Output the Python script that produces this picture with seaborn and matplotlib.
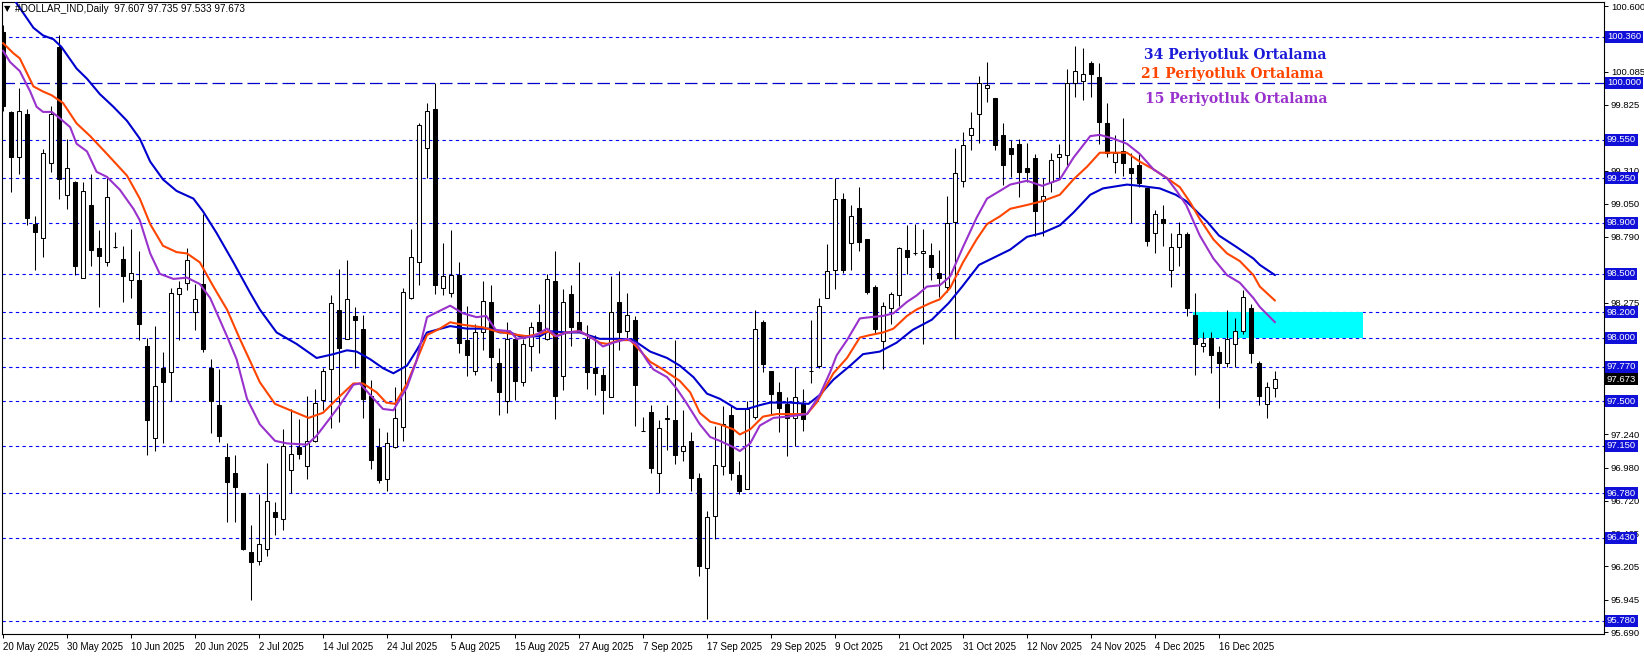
import numpy as np
import matplotlib
matplotlib.use("Agg")
import matplotlib.pyplot as plt
import matplotlib.transforms as mtrans
from matplotlib.patches import Rectangle
import seaborn as sns

# daily candles, 20 May 2025 .. end of Dec 2025
opens = [100.40, 99.77, 99.42, 99.75, 98.89, 98.78, 99.37, 100.28, 99.12, 99.22,
         98.47, 99.04, 98.70, 98.59, 98.71, 98.62, 98.45, 98.45, 97.93, 97.21,
         97.76, 97.73, 98.34, 98.43, 98.20, 98.42, 97.76, 97.47, 97.06, 96.94,
         96.78, 96.32, 96.25, 96.34, 96.63, 96.58, 96.96, 97.14, 96.99, 97.19,
         97.51, 97.75, 98.22, 97.99, 98.17, 98.07, 97.54, 97.14, 96.89, 97.14,
         97.30, 98.31, 98.59, 99.49, 99.79, 98.39, 98.35, 98.49, 97.98, 97.74,
         98.04, 98.28, 97.80, 97.50, 97.99, 97.65, 97.93, 98.12, 97.99, 98.44,
         97.70, 98.34, 98.12, 97.99, 97.76, 97.71, 97.53, 98.28, 98.05, 98.14,
         97.27, 97.42, 96.94, 97.36, 97.35, 97.11, 97.19, 96.90, 96.19, 96.60,
         96.99, 97.39, 96.92, 96.81, 97.38, 98.12, 97.74, 97.57, 97.48, 97.37,
         97.48, 97.74, 97.78, 98.31, 98.53, 99.09, 98.74, 99.02, 98.77, 98.40,
         97.97, 98.23, 98.33, 98.69, 98.66, 98.66, 98.65, 98.51, 98.40, 98.91,
         99.23, 99.59, 99.75, 99.96, 99.88, 99.59, 99.49, 99.52, 99.33, 99.41,
         99.07, 99.22, 99.42, 99.43, 100.00, 100.01, 100.15, 100.04, 99.68, 99.38,
         99.46, 99.33, 99.35, 99.17, 98.82, 98.93, 98.53, 98.71, 98.81, 98.18,
         97.93, 98.00, 97.89, 97.80, 97.95, 98.05, 98.23, 97.80, 97.48, 97.607]
highs = [100.45, 99.78, 99.96, 99.79, 98.95, 99.48, 99.82, 100.37, 99.56, 99.23,
         99.22, 99.28, 98.84, 99.26, 98.83, 98.72, 98.85, 98.68, 98.00, 98.09,
         97.89, 98.39, 98.44, 98.70, 98.42, 98.97, 97.83, 97.75, 97.17, 97.08,
         96.78, 96.53, 96.77, 97.02, 96.71, 97.28, 97.44, 97.36, 97.54, 97.60,
         97.76, 98.33, 98.54, 98.61, 98.24, 98.18, 97.67, 97.29, 97.26, 97.61,
         98.39, 98.85, 99.68, 99.84, 100.00, 98.74, 98.84, 98.59, 98.25, 98.11,
         98.44, 98.41, 97.92, 98.12, 98.03, 97.99, 98.12, 98.26, 98.50, 98.68,
         98.38, 98.41, 98.59, 98.10, 98.02, 97.76, 98.48, 98.52, 98.35, 98.17,
         97.38, 97.47, 97.35, 97.47, 97.98, 97.43, 97.26, 96.94, 96.64, 97.31,
         97.46, 97.47, 97.03, 97.50, 98.22, 98.14, 97.74, 97.65, 97.53, 97.77,
         97.60, 98.14, 98.31, 98.73, 99.25, 99.13, 99.04, 99.18, 98.77, 98.41,
         98.28, 98.36, 98.71, 98.88, 98.89, 98.85, 98.74, 98.69, 99.11, 99.49,
         99.61, 99.77, 100.05, 100.16, 99.88, 99.68, 99.55, 99.56, 99.53, 99.44,
         99.25, 99.45, 99.52, 100.11, 100.29, 100.27, 100.17, 100.15, 99.84, 99.59,
         99.72, 99.45, 99.44, 99.17, 99.00, 99.04, 98.82, 98.91, 98.83, 98.35,
         98.04, 98.04, 97.93, 98.22, 98.15, 98.37, 98.26, 97.82, 97.65, 97.735]
lows = [99.78, 99.14, 99.28, 98.88, 98.53, 98.63, 99.30, 99.09, 99.01, 98.49,
        98.47, 98.56, 98.24, 98.56, 98.70, 98.28, 98.31, 97.98, 97.08, 97.11,
        97.17, 97.50, 97.98, 98.37, 98.06, 97.89, 97.25, 97.18, 96.55, 96.55,
        96.33, 95.94, 96.22, 96.29, 96.45, 96.49, 96.78, 97.05, 96.89, 97.18,
        97.43, 97.29, 97.34, 97.99, 97.76, 97.37, 96.97, 96.86, 96.80, 97.13,
        97.19, 98.30, 98.41, 99.25, 98.34, 98.33, 98.32, 97.88, 97.70, 97.71,
        97.90, 97.66, 97.39, 97.41, 97.51, 97.62, 97.74, 97.88, 97.98, 97.36,
        97.59, 97.93, 98.05, 97.60, 97.55, 97.40, 97.53, 97.90, 98.00, 97.31,
        97.27, 96.94, 96.78, 97.12, 97.01, 97.03, 96.80, 96.13, 95.79, 96.42,
        96.92, 96.88, 96.77, 96.81, 97.36, 97.73, 97.40, 97.26, 97.07, 97.15,
        97.27, 97.64, 97.76, 98.31, 98.38, 98.51, 98.53, 98.68, 98.34, 98.03,
        97.75, 98.11, 98.25, 98.50, 98.65, 97.95, 98.45, 98.32, 98.36, 97.99,
        99.18, 99.47, 99.53, 99.85, 99.47, 99.20, 99.26, 99.10, 99.22, 98.80,
        98.80, 99.14, 99.24, 99.35, 99.89, 99.86, 99.89, 99.52, 99.42, 99.29,
        99.27, 98.90, 99.18, 98.72, 98.66, 98.72, 98.40, 98.56, 98.17, 97.71,
        97.89, 97.72, 97.45, 97.77, 97.77, 98.03, 97.80, 97.47, 97.37, 97.533]
closes = [99.82, 99.42, 99.78, 98.94, 98.83, 99.45, 99.75, 99.24, 99.33, 98.56,
          99.15, 98.69, 98.64, 99.10, 98.71, 98.48, 98.51, 98.11, 97.35, 97.62,
          97.65, 98.35, 98.39, 98.61, 98.30, 97.91, 97.50, 97.23, 96.87, 96.83,
          96.34, 96.24, 96.38, 96.72, 96.59, 97.15, 97.09, 97.09, 97.19, 97.49,
          97.74, 98.27, 97.92, 98.30, 98.14, 97.52, 97.04, 96.88, 97.17, 97.37,
          98.36, 98.63, 99.67, 99.78, 98.41, 98.48, 98.49, 97.96, 97.86, 98.04,
          98.29, 97.85, 97.57, 97.99, 97.66, 97.95, 98.08, 98.05, 98.46, 97.54,
          98.28, 98.08, 98.05, 97.73, 97.72, 97.59, 98.20, 98.04, 98.18, 97.63,
          97.27, 96.98, 97.29, 97.37, 97.08, 97.15, 96.90, 96.21, 96.59, 97.00,
          97.32, 96.94, 96.80, 97.44, 98.07, 97.79, 97.56, 97.45, 97.37, 97.53,
          97.36, 97.74, 98.25, 98.52, 99.09, 98.53, 98.95, 98.75, 98.36, 98.07,
          98.25, 98.34, 98.70, 98.63, 98.66, 98.68, 98.55, 98.47, 98.90, 99.29,
          99.51, 99.64, 100.00, 99.98, 99.51, 99.35, 99.44, 99.30, 99.30, 98.99,
          99.11, 99.39, 99.44, 100.00, 100.09, 100.07, 100.07, 99.69, 99.45, 99.45,
          99.37, 99.29, 99.21, 98.76, 98.97, 98.90, 98.71, 98.81, 98.23, 97.95,
          97.96, 97.86, 97.80, 97.99, 98.05, 98.32, 97.88, 97.54, 97.61, 97.673]

# moving averages at the bar positions given
ma34_x = [0, 1.5, 3.8, 5.0, 6.3, 7.3, 9.2, 10.5, 12.1, 13.8, 15.5, 17.1, 18.4, 20.0,
          21.7, 23.8, 25.0, 26.7, 28.8, 30.9, 32.1, 34.2, 36.7, 39.2, 41.3, 43.0,
          44.2, 45.9, 47.5, 48.8, 50.5, 51.7, 53.0, 55.9, 58.0, 60.9, 62.1, 63.4,
          64.6, 67.1, 68.2, 70.4, 72.1, 74.6, 77.1, 78.8, 80.9, 83.0, 84.6, 86.3,
          88.0, 89.6, 91.7, 93.0, 94.6, 95.9, 98.4, 100.7, 102.1, 103.8, 105.9,
          107.5, 109.6, 111.7, 113.7, 116.1, 118.2, 119.9, 122.0, 124.6, 125.9,
          128.0, 129.9, 132.1, 133.8, 135.9, 137.5, 140.5, 142.1, 144.6, 146.6,
          147.9, 150.5, 152.0, 154.2, 156.3, 157.1, 159]
ma34_y = [100.75, 100.64, 100.43, 100.37, 100.34, 100.28, 100.11, 100.03, 99.91,
          99.81, 99.70, 99.56, 99.38, 99.24, 99.15, 99.09, 98.99, 98.82, 98.59,
          98.35, 98.22, 98.04, 97.95, 97.84, 97.87, 97.90, 97.89, 97.83, 97.76,
          97.72, 97.78, 97.90, 98.04, 98.09, 98.07, 98.07, 98.04, 98.04, 98.01,
          98.01, 98.05, 98.04, 98.04, 97.99, 97.99, 97.98, 97.89, 97.84, 97.78,
          97.69, 97.56, 97.52, 97.44, 97.44, 97.47, 97.49, 97.49, 97.48, 97.55,
          97.67, 97.78, 97.87, 97.89, 97.96, 98.06, 98.14, 98.27, 98.40, 98.57,
          98.65, 98.69, 98.79, 98.82, 98.88, 98.98, 99.12, 99.17, 99.20, 99.19,
          99.17, 99.12, 99.07, 98.91, 98.80, 98.71, 98.62, 98.57, 98.49]
ma21_x = [0, 1.3, 2.1, 3.8, 5.0, 6.1, 7.5, 9.2, 10.9, 13.0, 15.5, 17.1, 18.4, 20.0,
          21.7, 23.0, 24.6, 26.3, 28.0, 29.6, 31.3, 32.1, 34.0, 35.9, 38.2, 40.0,
          42.1, 43.8, 45.0, 46.7, 47.9, 49.0, 50.5, 51.7, 53.0, 54.6, 55.9, 57.5,
          60.0, 61.6, 63.4, 65.5, 67.1, 68.2, 69.0, 70.4, 72.1, 74.6, 75.5, 77.1,
          78.4, 79.6, 80.9, 82.5, 84.6, 85.9, 87.1, 88.4, 89.6, 91.3, 92.1, 93.4,
          95.0, 96.7, 99.2, 100.5, 101.7, 103.8, 105.5, 107.1, 108.4, 110.0, 111.3,
          113.0, 114.2, 115.9, 117.1, 118.4, 120.0, 121.7, 123.0, 124.6, 125.9,
          128.0, 129.9, 132.1, 133.8, 135.5, 137.1, 138.8, 140.5, 142.1, 143.8,
          145.5, 147.1, 148.4, 149.6, 151.3, 153.0, 154.6, 156.3, 157.1, 159]
ma21_y = [100.31, 100.23, 100.19, 99.97, 99.93, 99.90, 99.84, 99.68, 99.58, 99.44,
          99.27, 99.09, 98.89, 98.72, 98.67, 98.66, 98.59, 98.40, 98.22, 97.99,
          97.76, 97.65, 97.48, 97.43, 97.37, 97.41, 97.54, 97.64, 97.64, 97.57,
          97.49, 97.48, 97.64, 97.82, 98.02, 98.07, 98.12, 98.10, 98.08, 98.05,
          98.03, 98.01, 98.03, 98.05, 98.01, 98.04, 98.05, 97.96, 97.95, 97.98,
          97.98, 97.90, 97.81, 97.75, 97.66, 97.57, 97.41, 97.34, 97.32, 97.28,
          97.24, 97.28, 97.38, 97.40, 97.40, 97.40, 97.49, 97.72, 97.84, 98.00,
          98.02, 98.04, 98.07, 98.17, 98.22, 98.27, 98.30, 98.39, 98.59, 98.77,
          98.89, 98.95, 99.01, 99.04, 99.07, 99.12, 99.24, 99.34, 99.45, 99.45,
          99.45, 99.38, 99.32, 99.25, 99.18, 99.06, 98.93, 98.77, 98.66, 98.60,
          98.49, 98.40, 98.29]
ma15_x = [0, 0.9, 2.1, 3.4, 4.2, 5.0, 6.1, 7.1, 8.4, 9.2, 10.5, 11.7, 13.0, 14.6,
          16.3, 17.1, 18.4, 19.6, 21.3, 23.0, 24.6, 25.9, 28.0, 29.2, 30.5, 32.1,
          34.0, 35.5, 38.0, 39.2, 40.9, 42.1, 43.8, 44.6, 45.9, 47.5, 48.8, 50.5,
          51.7, 53.0, 54.6, 55.9, 57.5, 59.2, 60.4, 61.6, 63.4, 64.2, 66.3, 68.0,
          69.2, 70.5, 72.1, 73.8, 75.0, 76.3, 78.0, 79.2, 80.5, 81.3, 83.0, 84.2,
          85.4, 87.1, 88.4, 89.6, 91.3, 92.1, 93.4, 94.6, 96.3, 98.0, 100.5, 102.1,
          103.4, 104.2, 105.5, 107.1, 108.4, 110.0, 111.3, 113.0, 114.2, 115.5,
          117.1, 118.4, 120.0, 121.7, 123.0, 124.6, 125.9, 128.0, 129.9, 132.1,
          133.8, 135.9, 137.1, 138.8, 140.5, 142.1, 143.8, 145.5, 146.7, 147.9,
          149.6, 151.3, 153.0, 154.6, 156.3, 157.1, 159]
ma15_y = [100.25, 100.16, 100.09, 99.93, 99.81, 99.77, 99.77, 99.72, 99.65, 99.52,
          99.46, 99.30, 99.26, 99.16, 99.01, 98.92, 98.66, 98.50, 98.46, 98.47,
          98.42, 98.31, 98.01, 97.83, 97.52, 97.32, 97.19, 97.17, 97.16, 97.23,
          97.37, 97.47, 97.63, 97.64, 97.55, 97.44, 97.43, 97.61, 97.82, 98.16,
          98.21, 98.25, 98.19, 98.16, 98.17, 98.06, 98.05, 97.99, 98.01, 98.07,
          98.01, 98.04, 98.05, 97.99, 97.93, 97.96, 97.99, 97.95, 97.82, 97.75,
          97.69, 97.60, 97.49, 97.32, 97.22, 97.19, 97.14, 97.11, 97.17, 97.31,
          97.37, 97.38, 97.40, 97.55, 97.73, 97.86, 97.98, 98.15, 98.16, 98.17,
          98.19, 98.28, 98.33, 98.40, 98.41, 98.48, 98.71, 98.94, 99.09, 99.15,
          99.20, 99.23, 99.19, 99.24, 99.41, 99.58, 99.59, 99.56, 99.52, 99.44,
          99.32, 99.25, 99.15, 99.04, 98.80, 98.62, 98.49, 98.43, 98.31, 98.24,
          98.12]

date_labels = ["20 May 2025", "30 May 2025", "10 Jun 2025", "20 Jun 2025", "2 Jul 2025",
               "14 Jul 2025", "24 Jul 2025", "5 Aug 2025", "15 Aug 2025", "27 Aug 2025",
               "7 Sep 2025", "17 Sep 2025", "29 Sep 2025", "9 Oct 2025", "21 Oct 2025",
               "31 Oct 2025", "12 Nov 2025", "24 Nov 2025", "4 Dec 2025", "16 Dec 2025"]
levels = [100.36, 99.55, 99.25, 98.90, 98.50, 98.20, 98.00, 97.77, 97.50, 97.15,
          96.78, 96.43, 95.78]
round_level = 100.00
price_ticks = [100.600, 100.345, 100.085, 99.825, 99.570, 99.310, 99.050, 98.790, 98.530,
               98.275, 98.015, 97.760, 97.500, 97.240, 96.980, 96.720, 96.465, 96.205,
               95.945, 95.690]
# grid labels that sit fully under a level box on the original
hidden_ticks = [100.345, 99.570, 98.530, 98.015, 97.760, 97.500]
last_price = 97.673
zone = (98.00, 98.20)

sns.set_theme(style="white")
plt.rcParams['font.family'] = ['Liberation Sans', 'DejaVu Sans']

fig = plt.figure(figsize=(16.44, 6.58), dpi=100)
ax = fig.add_axes([2 / 1644, 24 / 658, 1602 / 1644, 632 / 658])

o = np.array(opens); h = np.array(highs); l = np.array(lows); c = np.array(closes)
x = np.arange(len(c))
up = c >= o

for lv in levels:
    ax.axhline(lv, color='#0000ff', lw=0.8, ls=(0, (3, 3)), zorder=1)
ax.axhline(round_level, color='#0000cc', lw=0.9, ls=(0, (10, 4)), zorder=1)

ax.add_patch(Rectangle((148.8, zone[0]), 170 - 148.8, zone[1] - zone[0],
                       fc='#00ffff', ec='none', zorder=2))

ax.vlines(x, l, h, color='black', lw=0.75, zorder=3)
ax.bar(x[up], (c - o)[up], bottom=o[up], width=0.62, color='white',
       edgecolor='black', linewidth=0.75, zorder=4)
ax.bar(x[~up], (o - c)[~up], bottom=c[~up], width=0.62, color='black',
       edgecolor='black', linewidth=0.75, zorder=4)

sns.lineplot(x=ma34_x, y=ma34_y, ax=ax, color='#0000cd', lw=1.5, zorder=5)
sns.lineplot(x=ma21_x, y=ma21_y, ax=ax, color='#ff4500', lw=1.5, zorder=6)
sns.lineplot(x=ma15_x, y=ma15_y, ax=ax, color='#9932cc', lw=1.5, zorder=7)

lab_kw = dict(fontfamily='DejaVu Serif', fontweight='bold', fontsize=10, va='center', ha='left')
ax.text(142.6, 100.22, '34 Periyotluk Ortalama', color='#1a1ad8', **lab_kw)
ax.text(142.2, 100.065, '21 Periyotluk Ortalama', color='#ff4500', **lab_kw)
ax.text(142.7, 99.87, '15 Periyotluk Ortalama', color='#9932cc', **lab_kw)

ax.set_xlim(-0.125, 200.125)
ax.set_ylim(95.675, 100.632)
ax.set_xlabel('')
ax.set_ylabel('')

ax.yaxis.tick_right()
ax.set_yticks(price_ticks)
ax.set_yticklabels(['' if v in hidden_ticks else f'{v:.3f}' for v in price_ticks])
ax.tick_params(axis='y', length=3, width=0.7, labelsize=6.8, pad=2, colors='black')
ax.set_xticks(range(0, 8 * len(date_labels), 8))
ax.set_xticklabels(date_labels)
ax.tick_params(axis='x', length=3, width=0.7, labelsize=7, pad=3, colors='black')
for t in ax.get_xticklabels():
    t.set_ha('left')
ax.tick_params(bottom=True, right=True)

for sp in ax.spines.values():
    sp.set_color('black')
    sp.set_linewidth(0.8)

tr = mtrans.blended_transform_factory(ax.transAxes, ax.transData)
for lv in levels + [round_level]:
    ax.text(1.0018, lv, f'{lv:.3f}', transform=tr, color='white', fontsize=6.8,
            va='center', ha='left', clip_on=False, zorder=10,
            bbox=dict(boxstyle='square,pad=0.16', fc='#1010d8', ec='none'))
ax.text(1.0018, last_price, f'{last_price:.3f}', transform=tr, color='white', fontsize=6.8,
        va='center', ha='left', clip_on=False, zorder=10,
        bbox=dict(boxstyle='square,pad=0.16', fc='black', ec='none'))

fig.text(4 / 1644, 1 - 9 / 658, '\u25bc', fontsize=6, va='center', ha='left',
         color='black', family=['DejaVu Sans'])
fig.text(15 / 1644, 1 - 9 / 658, '#DOLLAR_IND,Daily  97.607 97.735 97.533 97.673',
         fontsize=7.2, va='center', ha='left', color='black')

fig.savefig('out.png', dpi=100, facecolor='white')
